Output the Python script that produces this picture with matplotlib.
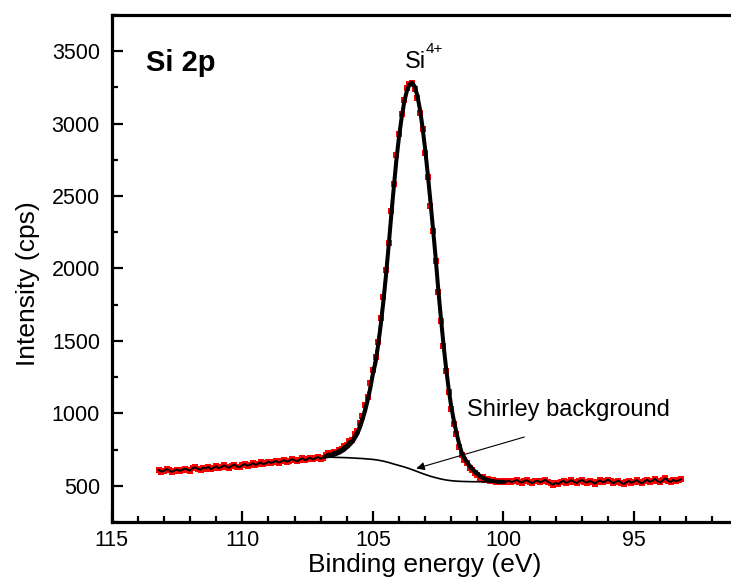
import numpy as np
import matplotlib
matplotlib.use("Agg")
import matplotlib.pyplot as plt

plt.rcParams['font.family'] = ['Liberation Sans', 'DejaVu Sans']

# measured spectrum, 113.2 eV -> 93.2 eV, 0.1 eV step
e_start = 113.2
e_step = 0.1
counts = [
    610, 598, 603, 615, 607, 596, 605, 612, 603, 609,
    618, 611, 605, 621, 628, 617, 611, 625, 619, 630,
    614, 626, 635, 622, 629, 641, 632, 624, 638, 646,
    633, 629, 641, 650, 638, 645, 656, 644, 652, 661,
    649, 655, 667, 658, 664, 672, 660, 669, 678, 666,
    673, 684, 676, 668, 681, 689, 677, 685, 694, 682,
    690, 699, 687, 694, 712, 723, 721, 733, 735, 749,
    755, 774, 784, 809, 815, 856, 878, 936, 981, 1056,
    1110, 1208, 1302, 1390, 1495, 1655, 1800, 1990, 2175, 2395,
    2580, 2780, 2925, 3065, 3160, 3245, 3275, 3277, 3237, 3180,
    3075, 2965, 2794, 2633, 2433, 2261, 2050, 1840, 1635, 1465,
    1290, 1150, 1030, 925, 855, 770, 715, 675, 655, 622,
    606, 585, 575, 556, 561, 539, 546, 530, 540, 524,
    532, 524, 534, 528, 536, 525, 531, 540, 529, 522,
    533, 538, 527, 519, 530, 536, 524, 531, 541, 528,
    516, 508, 521, 512, 526, 534, 520, 529, 538, 527,
    519, 531, 540, 529, 522, 534, 526, 515, 528, 537,
    524, 531, 543, 530, 518, 527, 536, 522, 512, 525,
    533, 521, 529, 539, 526, 517, 530, 541, 528, 535,
    548, 531, 523, 537, 552, 534, 526, 541, 530, 538,
    544,
]

# fitted envelope, 106.8 eV -> 100.0 eV, 0.1 eV step
fit_start = 106.8
fit_vals = [
    702, 705, 709, 713, 720, 727, 737, 749, 764, 781,
    800, 826, 858, 901, 956, 1016, 1090, 1173, 1272, 1350,
    1470, 1610, 1770, 1950, 2150, 2360, 2560, 2750, 2910, 3040,
    3150, 3225, 3270, 3282, 3257, 3195, 3100, 2975, 2824, 2653,
    2468, 2276, 2080, 1860, 1665, 1480, 1315, 1170, 1045, 950,
    865, 790, 730, 695, 665, 640, 618, 600, 585, 568,
    556, 547, 540, 535, 532, 530, 528, 527, 527,
]

# Shirley background, 106.8 eV -> 100.0 eV, 0.2 eV step
bg_start = 106.8
bg_step = 0.2
bg_vals = [
    697, 697, 696, 695, 694, 692, 690, 688, 685, 682,
    677, 670, 661, 650, 640, 630, 618, 605, 591, 578,
    566, 556, 547, 540, 535, 532, 530, 529, 528, 528,
    527, 527, 527, 527, 527,
]

energy = e_start - e_step * np.arange(len(counts))
fit_e = fit_start - e_step * np.arange(len(fit_vals))
bg_e = bg_start - bg_step * np.arange(len(bg_vals))

fig = plt.figure(figsize=(7.31, 5.85), dpi=100)
ax = fig.add_axes([0.1528, 0.1077, 0.8933, 0.8667])

ax.plot(energy, counts, 's', color='red', ms=4.6, mew=0, zorder=2)
ax.plot(energy, counts, '-', color='black', lw=1.4, zorder=3)
ax.plot(fit_e, fit_vals, '-', color='black', lw=2.9, zorder=4)
ax.plot(bg_e, bg_vals, '-', color='black', lw=1.2, zorder=4)

ax.set_xlim(115, 90)
ax.set_ylim(250, 3750)
ax.set_xticks([115, 110, 105, 100, 95])
ax.set_xticks(np.arange(91, 116, 1), minor=True)
ax.set_yticks([500, 1000, 1500, 2000, 2500, 3000, 3500])
ax.set_yticks(np.arange(250, 3751, 250), minor=True)

for s in ax.spines.values():
    s.set_linewidth(2.3)
ax.tick_params(which='both', direction='in', top=False, right=False, width=1.6)
ax.tick_params(which='major', length=7.7, labelsize=15.5)
ax.tick_params(which='minor', length=4.1)
ax.tick_params(axis='x', pad=6)
ax.tick_params(axis='y', pad=8.5)

ax.set_xlabel('Binding energy (eV)', fontsize=19)
ax.xaxis.set_label_coords(0.48, -0.061)
ax.set_ylabel('Intensity (cps)', fontsize=19)
ax.yaxis.set_label_coords(-0.11, 0.47)

ax.text(113.68, 3362, 'Si 2p', fontsize=21, fontweight='bold', ha='left', va='baseline')
ax.text(103.76, 3385, 'Si', fontsize=17, ha='left', va='baseline')
ax.text(102.99, 3489, '4+', fontsize=11, ha='left', va='baseline')

ax.text(101.4, 980, 'Shirley background', fontsize=17, ha='left', va='baseline')
ax.annotate('', xy=(103.44, 614), xytext=(99.1, 842),
            arrowprops=dict(arrowstyle='-|>', color='black', lw=0.8, mutation_scale=12))

fig.savefig('out.png', dpi=100)
